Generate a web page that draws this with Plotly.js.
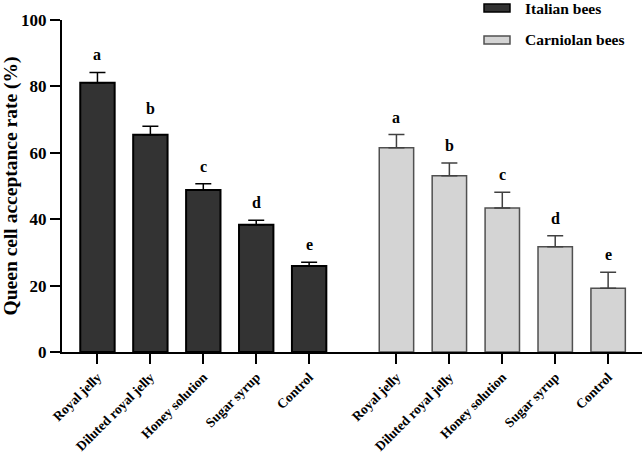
<!DOCTYPE html>
<html>
<head>
<meta charset="utf-8">
<script src="https://cdn.plot.ly/plotly-3.0.1.min.js"></script>
<style>
  html, body { margin: 0; padding: 0; background: #fff; }
  #chart { width: 644px; height: 455px; }
</style>
</head>
<body>
<div id="chart"></div>
<script>
// treatments, same for both bee races
var treatments = ["Royal jelly", "Diluted royal jelly", "Honey solution", "Sugar syrup", "Control"]
// x positions: second group shifted to leave a gap
var xItalian = [0, 1, 2, 3, 4]
var xCarniolan = [5.65, 6.65, 7.65, 8.65, 9.65]

var italian = [81.1, 65.4, 48.8, 38.3, 25.9]
var italianErr = [3.1, 2.6, 1.9, 1.4, 1.1]
var carniolan = [61.5, 53.1, 43.4, 31.7, 19.2]
var carniolanErr = [4.0, 3.8, 4.7, 3.3, 4.8]
var letters = ["a", "b", "c", "d", "e"]

var seriesNames = ["Italian bees", "Carniolan bees"]
var fills = ["#333333", "#d4d4d4"]
var outlines = ["#000000", "#505050"]

var zeros = [0, 0, 0, 0, 0]
var serif = "Liberation Serif, Times New Roman, serif"

var data = [
  {
    type: "bar",
    name: seriesNames[0],
    x: xItalian,
    y: italian,
    width: 0.65,
    marker: { color: fills[0], line: { color: outlines[0], width: 2 } },
    error_y: { type: "data", symmetric: false, array: italianErr, arrayminus: zeros, color: "#000000", thickness: 1.5, width: 8 },
    hoverinfo: "skip",
  },
  {
    type: "bar",
    name: seriesNames[1],
    x: xCarniolan,
    y: carniolan,
    width: 0.65,
    marker: { color: fills[1], line: { color: outlines[1], width: 1.5 } },
    error_y: { type: "data", symmetric: false, array: carniolanErr, arrayminus: zeros, color: "#404040", thickness: 1.5, width: 8 },
    hoverinfo: "skip",
  },
]

var letterFont = { family: serif, size: 16, weight: "bold", color: "#000" }
var annotations = []
for (var i = 0; i < letters.length; i++) {
  annotations.push({ x: xItalian[i], y: italian[i] + italianErr[i], text: letters[i], showarrow: false, yanchor: "bottom", yshift: 7, font: letterFont })
  annotations.push({ x: xCarniolan[i], y: carniolan[i] + carniolanErr[i], text: letters[i], showarrow: false, yanchor: "bottom", yshift: 7, font: letterFont })
}

// legend drawn by hand so the swatches are wide rectangles like the original
var shapes = []
var legendY = [1.036, 0.94]
for (var k = 0; k < seriesNames.length; k++) {
  shapes.push({ type: "rect", xref: "paper", yref: "paper", x0: 0.7276, x1: 0.7724, y0: legendY[k] - 0.012, y1: legendY[k] + 0.012, fillcolor: fills[k], line: { color: outlines[k], width: 1.5 } })
  annotations.push({ xref: "paper", yref: "paper", x: 0.795, y: legendY[k], xanchor: "left", yanchor: "middle", text: seriesNames[k], showarrow: false, font: { family: serif, size: 15.5, weight: "bold", color: "#000" } })
}

var layout = {
  width: 644,
  height: 455,
  margin: { t: 20, r: 2, l: 62, b: 103 },
  paper_bgcolor: "#ffffff",
  plot_bgcolor: "#ffffff",
  font: { family: serif, color: "#000", weight: "bold" },
  showlegend: false,
  xaxis: {
    range: [-0.67, 10.29],
    tickvals: xItalian.concat(xCarniolan),
    ticktext: treatments.concat(treatments),
    tickangle: -45,
    ticks: "outside", ticklen: 10, tickwidth: 1.5, tickcolor: "#000",
    showline: true, linecolor: "#000", linewidth: 2,
    showgrid: false, zeroline: false,
    tickfont: { family: serif, size: 13.5, weight: "bold" },
  },
  yaxis: {
    range: [0, 100],
    tickvals: [0, 20, 40, 60, 80, 100],
    ticks: "outside", ticklen: 10, tickwidth: 1.5, tickcolor: "#000",
    showline: true, linecolor: "#000", linewidth: 2,
    showgrid: false, zeroline: false,
    tickfont: { family: serif, size: 17, weight: "bold" },
    title: { text: "Queen cell acceptance rate (%)", font: { family: serif, size: 19.5, weight: "bold" }, standoff: 6 },
  },
  shapes: shapes,
  annotations: annotations,
}

Plotly.newPlot("chart", data, layout, { displayModeBar: false })
</script>
</body>
</html>
